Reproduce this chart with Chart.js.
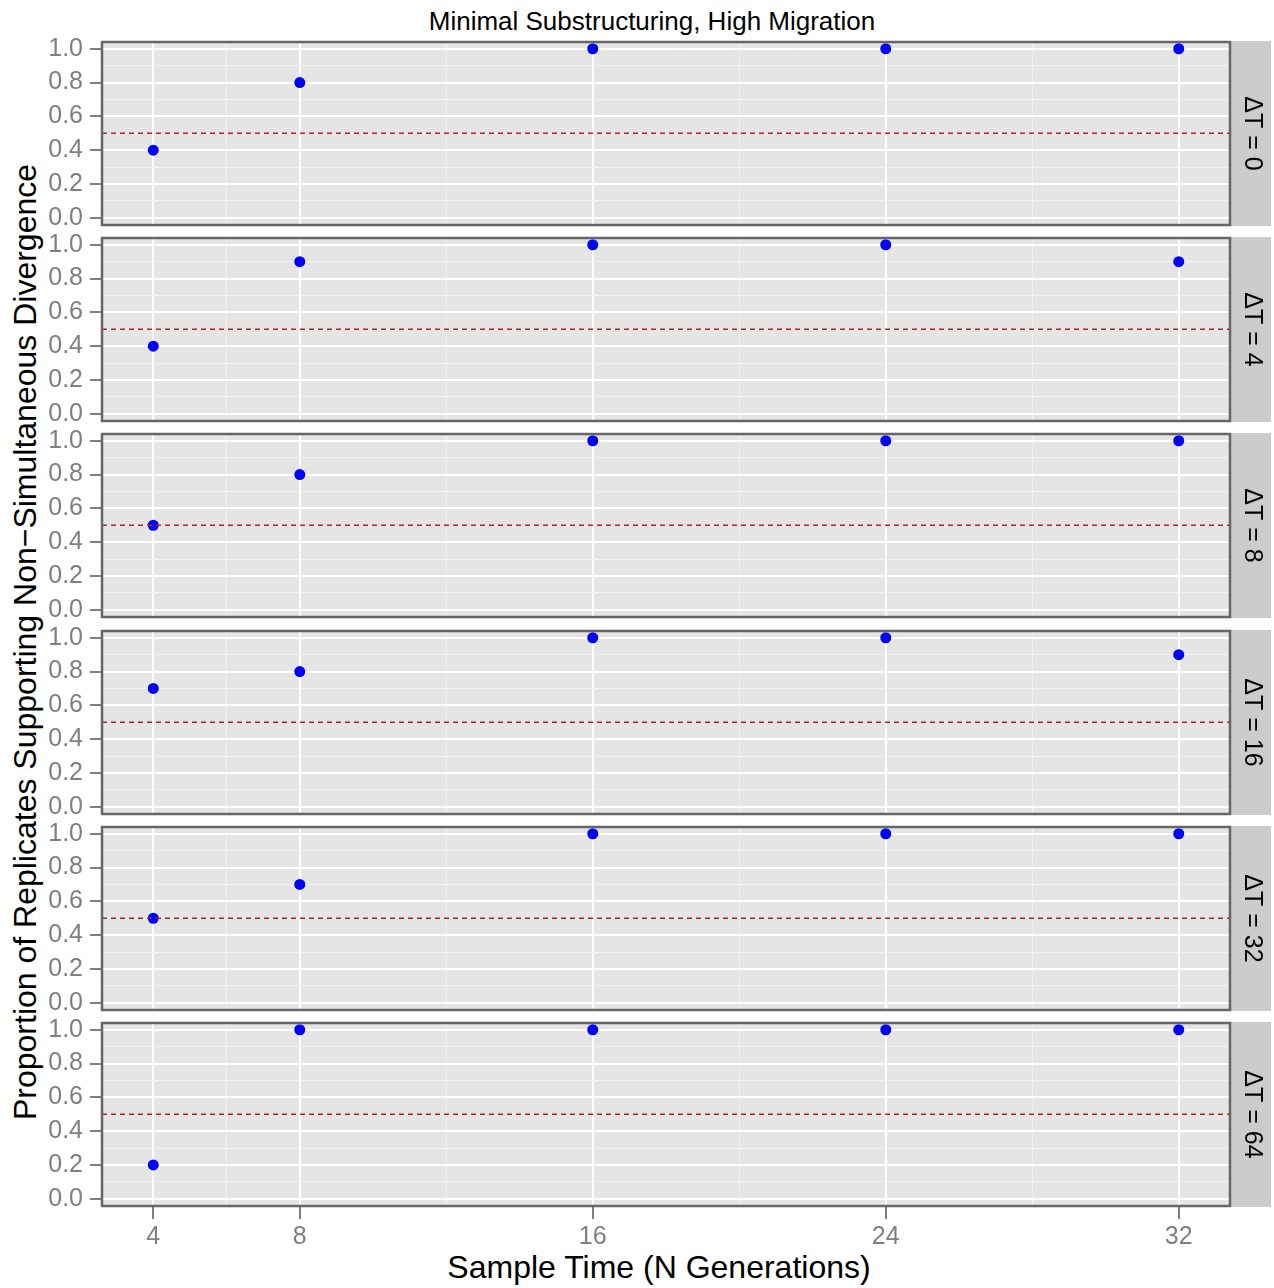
<!DOCTYPE html>
<html>
<head>
<meta charset="utf-8">
<title>Minimal Substructuring, High Migration</title>
<script src="https://cdn.jsdelivr.net/npm/chart.js@4.4.0/dist/chart.umd.min.js"></script>
<style>
  body { margin: 0; background: #fff; width: 1274px; height: 1288px; position: relative; overflow: hidden;
         font-family: "Liberation Sans", Arial, sans-serif; }
  canvas.panel { position: absolute; left: 0; }
  .label { position: absolute; white-space: nowrap; color: #000; transform: translate(-50%, -50%); }
  #main-title { left: 652px; top: 21px; font-size: 26px; }
  #x-title { left: 659px; top: 1267px; font-size: 32px; }
  #y-title { left: 25px; top: 642px; font-size: 32px; transform: translate(-50%, -50%) rotate(-90deg); }
</style>
</head>
<body>
<div id="main-title" class="label">Minimal Substructuring, High Migration</div>
<div id="y-title" class="label">Proportion of Replicates Supporting Non&#8722;Simultaneous Divergence</div>
<div id="x-title" class="label">Sample Time (N Generations)</div>
<div id="panels"></div>

<script>
// facet rows (ΔT) and x categories (sample time)
const deltaT = [0, 4, 8, 16, 32, 64];
const sampleTimes = [4, 8, 16, 24, 32];

// proportion of replicates, one array per ΔT facet
const propDT0  = [0.4, 0.8, 1.0, 1.0, 1.0];
const propDT4  = [0.4, 0.9, 1.0, 1.0, 0.9];
const propDT8  = [0.5, 0.8, 1.0, 1.0, 1.0];
const propDT16 = [0.7, 0.8, 1.0, 1.0, 0.9];
const propDT32 = [0.5, 0.7, 1.0, 1.0, 1.0];
const propDT64 = [0.2, 1.0, 1.0, 1.0, 1.0];
const proportions = [propDT0, propDT4, propDT8, propDT16, propDT32, propDT64];

// reference line
const threshold = 0.5;

// axis ticks (majors get labels, minors only a faint grid line)
const yTicks = [0, 0.1, 0.2, 0.3, 0.4, 0.5, 0.6, 0.7, 0.8, 0.9, 1.0];
const yMajor = [0, 0.2, 0.4, 0.6, 0.8, 1.0];
const xTicks = [4, 6, 8, 12, 16, 20, 24, 28, 32];
const xMajor = [4, 8, 16, 24, 32];

// layout of the facet grid (pixels)
const PANEL_LEFT = 102, PANEL_RIGHT = 1230, STRIP_RIGHT = 1271;
const PANEL_TOP0 = 42, PANEL_STEP = 196.2, PANEL_H = 183;
const PAD = 12, XAXIS_H = 46;
const FONT = '"Liberation Sans", Arial, sans-serif';

const isMajor = (list, v) => list.some(m => Math.abs(m - v) < 1e-9);

// panel background, border and facet strip
const facetPlugin = {
    id: 'facet',
    beforeDraw(chart) {
        const a = chart.chartArea, ctx = chart.ctx;
        ctx.save();
        ctx.fillStyle = '#E5E5E5';
        ctx.fillRect(a.left, a.top, a.right - a.left, a.bottom - a.top);
        ctx.restore();
    },
    afterDraw(chart, args, opts) {
        const a = chart.chartArea, ctx = chart.ctx;
        ctx.save();
        // strip on the right
        ctx.fillStyle = '#CCCCCC';
        ctx.fillRect(a.right + 1, a.top - 1, STRIP_RIGHT - a.right - 1, a.bottom - a.top + 2);
        ctx.translate((a.right + STRIP_RIGHT) / 2 + 1, (a.top + a.bottom) / 2);
        ctx.rotate(Math.PI / 2);
        ctx.fillStyle = '#000';
        ctx.font = '25px ' + FONT;
        ctx.textAlign = 'center';
        ctx.textBaseline = 'middle';
        ctx.fillText(opts.label, 0, 0);
        ctx.restore();
        // panel border
        ctx.save();
        ctx.strokeStyle = '#666666';
        ctx.lineWidth = 2.5;
        ctx.strokeRect(a.left, a.top, a.right - a.left, a.bottom - a.top);
        ctx.restore();
    }
};

function makePanel(i) {
    const last = i === deltaT.length - 1;
    const canvas = document.createElement('canvas');
    canvas.className = 'panel';
    const top = Math.round(PANEL_TOP0 + PANEL_STEP * i) - PAD;
    const height = PAD + PANEL_H + (last ? XAXIS_H : PAD);
    canvas.width = 1274;
    canvas.height = height;
    canvas.style.top = top + 'px';
    document.getElementById('panels').appendChild(canvas);

    const points = sampleTimes.map((t, k) => ({ x: t, y: proportions[i][k] }));

    new Chart(canvas.getContext('2d'), {
        type: 'scatter',
        data: {
            datasets: [
                {
                    // dashed 0.5 line, drawn on top of the points
                    data: [{ x: 2.6, y: threshold }, { x: 33.4, y: threshold }],
                    showLine: true,
                    borderColor: '#B22222',
                    borderWidth: 1.5,
                    borderDash: [5, 4],
                    pointRadius: 0,
                    fill: false
                },
                {
                    data: points,
                    backgroundColor: '#0000FF',
                    borderWidth: 0,
                    pointRadius: 5.5,
                    pointHoverRadius: 5.5
                }
            ]
        },
        options: {
            responsive: false,
            animation: false,
            devicePixelRatio: 1,
            layout: { padding: { top: PAD, bottom: last ? 0 : PAD, left: 0, right: 1274 - PANEL_RIGHT } },
            plugins: {
                legend: { display: false },
                tooltip: { enabled: false },
                facet: { label: '\u0394T = ' + deltaT[i] }
            },
            scales: {
                x: {
                    type: 'linear',
                    min: 2.6,
                    max: 33.4,
                    afterBuildTicks: s => { s.ticks = xTicks.map(v => ({ value: v })); },
                    afterFit: s => { s.height = last ? XAXIS_H : 0; s.paddingLeft = 0; s.paddingRight = 0; },
                    border: { display: false },
                    grid: {
                        color: c => isMajor(xMajor, c.tick.value) ? '#FFFFFF' : '#F2F2F2',
                        lineWidth: c => isMajor(xMajor, c.tick.value) ? 2 : 1,
                        drawTicks: last,
                        tickLength: 13,
                        tickWidth: 2,
                        tickColor: c => isMajor(xMajor, c.tick.value) ? '#7F7F7F' : 'rgba(0,0,0,0)'
                    },
                    ticks: {
                        display: last,
                        autoSkip: false,
                        maxRotation: 0,
                        padding: 3,
                        color: '#7F7F7F',
                        font: { size: 25, family: FONT },
                        callback: v => isMajor(xMajor, v) ? String(v) : ''
                    }
                },
                y: {
                    min: -0.043,
                    max: 1.04,
                    afterBuildTicks: s => { s.ticks = yTicks.map(v => ({ value: v })); },
                    afterFit: s => { s.width = PANEL_LEFT; s.paddingTop = 0; s.paddingBottom = 0; },
                    border: { display: false },
                    grid: {
                        color: c => isMajor(yMajor, c.tick.value) ? '#FFFFFF' : '#F2F2F2',
                        lineWidth: c => isMajor(yMajor, c.tick.value) ? 2 : 1,
                        tickLength: 12,
                        tickWidth: 2,
                        tickColor: c => isMajor(yMajor, c.tick.value) ? '#7F7F7F' : 'rgba(0,0,0,0)'
                    },
                    ticks: {
                        autoSkip: false,
                        padding: 7,
                        color: '#7F7F7F',
                        font: { size: 25, family: FONT },
                        callback: v => isMajor(yMajor, v) ? v.toFixed(1) : ''
                    }
                }
            }
        },
        plugins: [facetPlugin]
    });
}

deltaT.forEach((d, i) => makePanel(i));
</script>
</body>
</html>
